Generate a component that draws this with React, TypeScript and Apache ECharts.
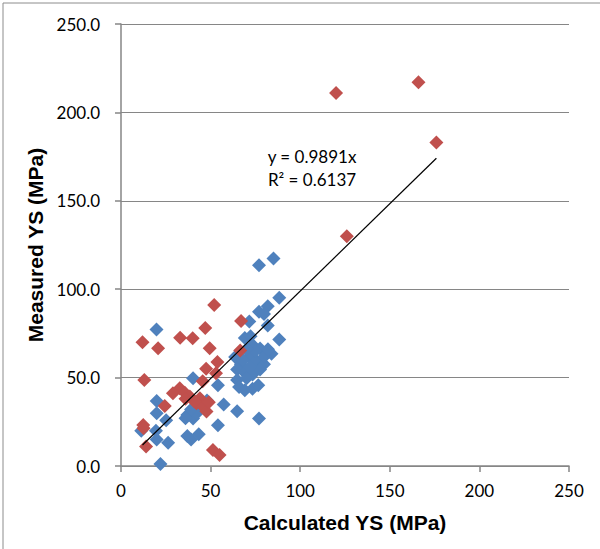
import React, { useEffect, useRef } from "react";
import * as echarts from "echarts";

const blueSeries: number[][] = [
  [85.1, 117.4], [77, 113.6], [88.3, 95.2], [81.9, 90.3], [77, 87.3], [79.8, 86], [71.6, 81.7],
  [81.9, 79.4], [19.8, 77.2], [69.1, 72.4], [72.3, 73.4], [88.3, 71.5], [73.4, 68.5], [77.6, 66.5],
  [81.9, 64.5], [84, 63.5], [71.2, 61.6], [75.5, 59.6], [79.8, 57.6], [63.7, 61.6], [66.9, 57.6],
  [64.8, 54.6], [69.1, 52.7], [73.4, 51.7], [77.6, 54.6], [64.8, 48.7], [70.1, 49.7], [65.9, 44.7],
  [69.1, 42.8], [73.4, 43.7], [76.6, 45.7], [54.1, 45.7], [40.2, 49.7], [57.3, 34.8], [64.8, 30.9],
  [77, 26.9], [19.9, 36.8], [19.9, 29.9], [25.2, 25.9], [37, 28.9], [40.2, 26.9], [42.3, 29.9],
  [39.1, 31.9], [45.5, 33.8], [54.1, 23], [11.3, 20], [19.5, 20], [19.9, 15], [26.3, 13.1],
  [37, 17], [39.1, 15], [43.4, 18], [22, 1.2], [75, 65], [70, 66], [80, 62], [68, 60], [72, 56],
  [82, 66], [36, 27], [48, 37],
];

const redSeries: number[][] = [
  [166, 217], [120, 211], [176, 183], [126, 130], [52, 91], [67, 82], [47, 78], [12, 70],
  [33, 72.5], [40, 72.3], [20.7, 66.6], [49.5, 66.6], [66.5, 65.3], [53.8, 58.8], [47.5, 55],
  [53, 52.5], [13, 48.7], [45.6, 48], [32.8, 44], [29, 41.2], [35.6, 41.5], [38.4, 39.3],
  [44, 38.3], [42.1, 35.5], [45.8, 33.6], [47.7, 30.8], [24.4, 34], [12.4, 23.2], [12.6, 21.3],
  [14, 11], [51.3, 9.1], [55, 6.2], [41, 36.5], [49, 36], [36, 38],
];

const trendSlope = 0.9891;
const trendXRange = [12, 176];
const equationText = "y = 0.9891x";
const r2Text = "R² = 0.6137";

const xTitle = "Calculated YS (MPa)";
const yTitle = "Measured YS (MPa)";

export default function App() {
  const ref = useRef<HTMLDivElement>(null);
  useEffect(() => {
    document.body.style.margin = "0";
    const chart = echarts.init(ref.current!, null, { renderer: "svg" });
    const gray = "#868686";
    const labelFont = { fontFamily: "Lato, 'Open Sans', sans-serif", fontSize: 17, color: "#000" };
    const titleFont = { fontFamily: "'Liberation Sans', Arial, sans-serif", fontSize: 21, fontWeight: "bold", color: "#000" };
    chart.setOption({
      animation: false,
      backgroundColor: "#fff",
      grid: { left: 121, right: 31, top: 24, bottom: 83 },
      xAxis: {
        type: "value",
        min: 0,
        max: 250,
        interval: 50,
        name: xTitle,
        nameLocation: "middle",
        nameGap: 46,
        nameTextStyle: titleFont,
        axisLine: { show: true, lineStyle: { color: gray, width: 1.5 } },
        axisTick: { show: true, length: 6, inside: false, lineStyle: { color: gray, width: 1.5 } },
        axisLabel: { ...labelFont, margin: 16 },
        splitLine: { show: false },
      },
      yAxis: {
        type: "value",
        min: 0,
        max: 250,
        interval: 50,
        name: yTitle,
        nameLocation: "middle",
        nameGap: 72,
        nameTextStyle: titleFont,
        axisLine: { show: true, lineStyle: { color: gray, width: 1.5 } },
        axisTick: { show: true, length: 6, inside: false, lineStyle: { color: gray, width: 1.5 } },
        axisLabel: { ...labelFont, margin: 21, formatter: (v: number) => v.toFixed(1) },
        splitLine: { show: true, lineStyle: { color: gray, width: 1.2 } },
      },
      series: [
        {
          type: "scatter",
          data: blueSeries,
          symbol: "diamond",
          symbolSize: 14,
          itemStyle: { color: "#4F81BD", opacity: 1 },
        },
        {
          type: "scatter",
          data: redSeries,
          symbol: "diamond",
          symbolSize: 14,
          itemStyle: { color: "#C0504D", opacity: 1 },
        },
        {
          type: "line",
          data: trendXRange.map((x) => [x, x * trendSlope]),
          symbol: "none",
          lineStyle: { color: "#000", width: 1.2 },
          z: 5,
        },
      ],
      graphic: [
        {
          type: "rect",
          shape: { x: 3, y: 3, width: 620, height: 580 },
          style: { fill: "none", stroke: "#8c8c8c", lineWidth: 1 },
          silent: true,
        },
        {
          type: "text",
          x: 312,
          y: 156,
          style: { text: equationText, fill: "#000", align: "center", verticalAlign: "middle", font: "17px Lato, 'Open Sans', sans-serif" },
        },
        {
          type: "text",
          x: 312,
          y: 179,
          style: { text: r2Text, fill: "#000", align: "center", verticalAlign: "middle", font: "17px Lato, 'Open Sans', sans-serif" },
        },
      ],
    });
    return () => chart.dispose();
  }, []);
  return <div ref={ref} style={{ width: 600, height: 549 }} />;
}
